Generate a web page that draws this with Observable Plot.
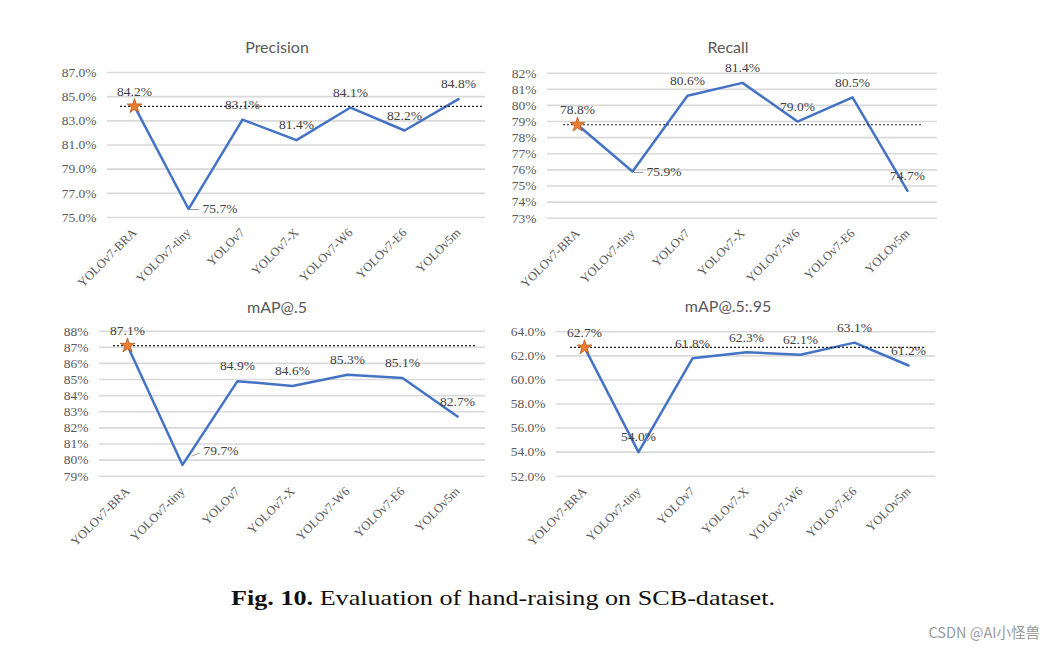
<!DOCTYPE html>
<html>
<head>
<meta charset="utf-8">
<script src="https://cdn.jsdelivr.net/npm/d3@7"></script>
<script src="https://cdn.jsdelivr.net/npm/@observablehq/plot@0.6"></script>
<style>
  html, body { margin: 0; padding: 0; background: #fff; }
  #root { position: relative; width: 1056px; height: 650px; overflow: hidden; background: #fff; }
  .panel { position: absolute; }
  .title { position: absolute; transform: translate(-50%, -50%); font-family: Lato, "Open Sans", sans-serif; font-size: 16px; color: #595959; white-space: nowrap; }
  .caption { position: absolute; font-family: "Liberation Serif", "DejaVu Serif", serif; font-size: 21px; color: #111; white-space: nowrap; transform-origin: 0 50%; }
  .wm { position: absolute; font-family: "Noto Sans CJK SC", "Noto Sans", sans-serif; font-size: 14.5px; color: #9a9a9a; white-space: nowrap; }
</style>
</head>
<body>
<div id="root"></div>
<script>
// ---- data ----
const categories = ["YOLOv7-BRA", "YOLOv7-tiny", "YOLOv7", "YOLOv7-X", "YOLOv7-W6", "YOLOv7-E6", "YOLOv5m"];
const precision = [84.2, 75.7, 83.1, 81.4, 84.1, 82.2, 84.8];
const recall = [78.8, 75.9, 80.6, 81.4, 79.0, 80.5, 74.7];
const map50 = [87.1, 79.7, 84.9, 84.6, 85.3, 85.1, 82.7];
const map5095 = [62.7, 54.0, 61.8, 62.3, 62.1, 63.1, 61.2];
const precisionTicks = [75, 77, 79, 81, 83, 85, 87];
const recallTicks = [73, 74, 75, 76, 77, 78, 79, 80, 81, 82];
const map50Ticks = [79, 80, 81, 82, 83, 84, 85, 86, 87, 88];
const map5095Ticks = [52, 54, 56, 58, 60, 62, 64];
const titles = ["Precision", "Recall", "mAP@.5", "mAP@.5:.95"];
const captionBold = "Fig. 10.";
const captionText = " Evaluation of hand-raising on SCB-dataset.";
const watermark = "CSDN @AI小怪兽";

// ---- layout ----
const panels = [
  {title: titles[0], values: precision, ticks: precisionTicks, fmt: d => d.toFixed(1) + "%",
   left: 0, top: 30, width: 500, height: 262, mL: 107, mR: 15, mT: 42, mB: 75,
   titleX: 277, titleY: 46, side: {dx: 14, dy: 0, ldx: 6, ldy: 0, rot: 0}, ruleR: -26},
  {title: titles[1], values: recall, ticks: recallTicks, fmt: d => d.toFixed(0) + "%",
   left: 500, top: 30, width: 456, height: 262, mL: 47, mR: 19, mT: 42.7, mB: 74.3,
   titleX: 728, titleY: 46, side: {dx: 14, dy: 0, ldx: 6, ldy: 0, rot: 0}, ruleR: -16},
  {title: titles[2], values: map50, ticks: map50Ticks, fmt: d => d.toFixed(0) + "%",
   left: 0, top: 290, width: 500, height: 265, mL: 99, mR: 15, mT: 40.7, mB: 79.3,
   titleX: 277, titleY: 306, side: {dx: 21, dy: -14, ldx: 13, ldy: -11, rot: -20}, ruleR: -19},
  {title: titles[3], values: map5095, ticks: map5095Ticks, fmt: d => d.toFixed(1) + "%",
   left: 500, top: 290, width: 456, height: 265, mL: 56, mR: 21, mT: 41.3, mB: 79.3,
   titleX: 728, titleY: 305, side: null, ruleR: -16}
];

const root = document.getElementById("root");
const serif = "'Liberation Serif', 'Times New Roman', serif";

for (const p of panels) {
  const data = categories.map((c, i) => ({cat: c, v: p.values[i]}));
  const best = data[0];
  const sideCat = categories[1];
  const normal = p.side ? data.filter(d => d.cat !== sideCat) : data;
  const sideData = p.side ? data.filter(d => d.cat === sideCat) : [];
  const marks = [
    Plot.gridY(p.ticks, {stroke: "#d9d9d9", strokeOpacity: 1, strokeWidth: 1.6}),
    Plot.axisY(p.ticks, {label: null, tickSize: 0, tickPadding: 11, tickFormat: p.fmt, fontFamily: serif, fontSize: 13.5, color: "#595959"}),
    Plot.axisX({label: null, tickSize: 0, tickPadding: 13, tickRotate: -45, fontFamily: serif, fontSize: 12.5, color: "#595959"}),
    Plot.line(data, {x: "cat", y: "v", stroke: "#4472C4", strokeWidth: 2.5}),
    Plot.ruleY([best], {y: "v", x1: () => categories[0], x2: () => categories[categories.length - 1], insetLeft: -14, insetRight: p.ruleR, stroke: "#222", strokeWidth: 1.2, strokeDasharray: "2,2"}),
    Plot.dot([best], {x: "cat", y: "v", symbol: "star", r: 4.6, fill: "#ED7D31", stroke: "#B5581C", strokeWidth: 0.8}),
    Plot.text(normal, {x: "cat", y: "v", text: d => d.v.toFixed(1) + "%", dy: -15, fontFamily: serif, fontSize: 13.5, fill: "#404040"})
  ];
  if (p.side) {
    marks.push(Plot.text(sideData, {x: "cat", y: "v", text: () => "—", dx: p.side.ldx, dy: p.side.ldy, rotate: p.side.rot, fontSize: 10, fill: "#9a9a9a"}));
    marks.push(Plot.text(sideData, {x: "cat", y: "v", text: d => d.v.toFixed(1) + "%", dx: p.side.dx, dy: p.side.dy, textAnchor: "start", fontFamily: serif, fontSize: 13.5, fill: "#404040"}));
  }
  const chart = Plot.plot({
    width: p.width, height: p.height,
    marginLeft: p.mL, marginRight: p.mR, marginTop: p.mT, marginBottom: p.mB,
    style: {background: "transparent", overflow: "visible"},
    x: {type: "point", domain: categories, padding: 0.5, label: null},
    y: {domain: [p.ticks[0], p.ticks[p.ticks.length - 1]], label: null},
    marks
  });
  const wrap = document.createElement("div");
  wrap.className = "panel";
  wrap.style.left = p.left + "px";
  wrap.style.top = p.top + "px";
  wrap.appendChild(chart);
  root.appendChild(wrap);
  const t = document.createElement("div");
  t.className = "title";
  t.style.left = p.titleX + "px";
  t.style.top = p.titleY + "px";
  t.textContent = p.title;
  root.appendChild(t);
}

// caption
const cap = document.createElement("div");
cap.className = "caption";
const b = document.createElement("b");
b.textContent = captionBold;
cap.appendChild(b);
cap.appendChild(document.createTextNode(captionText));
cap.style.left = "231px";
cap.style.top = "586px";
root.appendChild(cap);
const w = cap.getBoundingClientRect().width;
cap.style.transform = `scaleX(${544 / w})`;

// watermark
const wm = document.createElement("div");
wm.className = "wm";
wm.textContent = watermark;
root.appendChild(wm);
const ww = wm.getBoundingClientRect().width;
wm.style.left = (1040 - ww) + "px";
wm.style.top = "621px";
</script>
</body>
</html>
